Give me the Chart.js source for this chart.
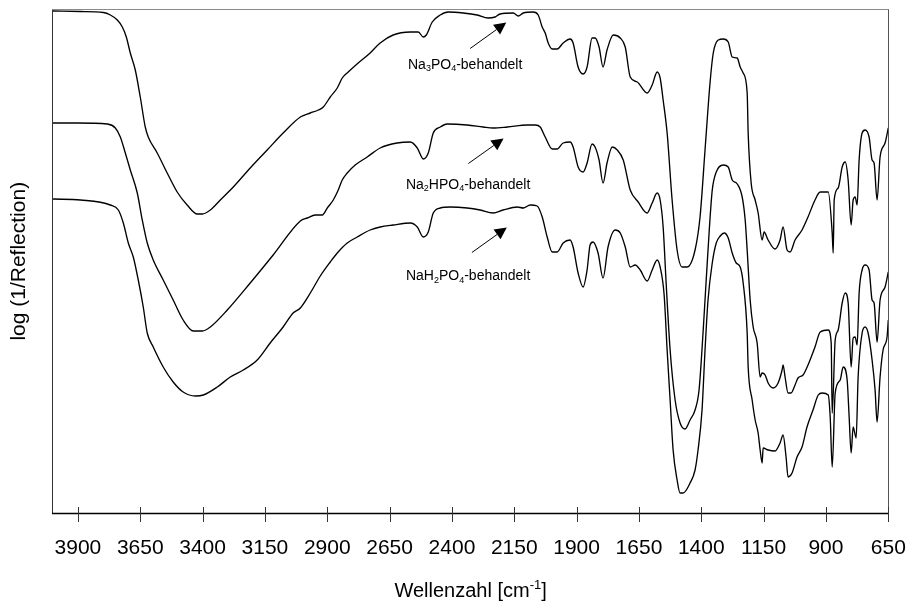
<!DOCTYPE html>
<html>
<head>
<meta charset="utf-8">
<script src="https://cdn.jsdelivr.net/npm/chart.js@4/dist/chart.umd.min.js"></script>
<style>
  html, body { margin: 0; padding: 0; background: #fff; }
  #wrap { width: 908px; height: 603px; }
</style>
</head>
<body>
<div id="wrap"><canvas id="c" width="908" height="603"></canvas></div>
<script>
// IR reflection spectra: [wavenumber (cm^-1), log(1/R) in arbitrary units]
const spectrumNa3PO4 = [
  [4000,1.004],[3890,1.003],[3798,1.001],[3770,0.996],[3742,0.986],[3722,0.972],[3706,0.952],[3690,0.920],
  [3670,0.886],[3650,0.832],[3630,0.772],[3618,0.752],[3582,0.720],[3542,0.680],[3502,0.642],[3462,0.616],
  [3421,0.598],[3401,0.598],[3369,0.606],[3329,0.626],[3277,0.652],[3209,0.690],[3141,0.726],[3077,0.760],
  [3008,0.792],[2968,0.800],[2936,0.806],[2916,0.812],[2888,0.832],[2860,0.850],[2840,0.870],[2816,0.882],
  [2776,0.900],[2728,0.920],[2688,0.940],[2636,0.956],[2567,0.962],[2535,0.962],[2515,0.952],[2503,0.956],
  [2479,0.982],[2447,0.996],[2415,1.002],[2355,1.000],[2299,0.996],[2255,0.990],[2227,0.992],[2207,0.998],
  [2154,1.000],[2134,0.994],[2114,1.000],[2074,1.002],[2054,0.996],[2038,0.972],[2026,0.960],[2014,0.940],
  [1998,0.928],[1978,0.928],[1954,0.940],[1926,0.948],[1914,0.940],[1894,0.892],[1874,0.878],[1858,0.892],
  [1838,0.950],[1826,0.950],[1810,0.932],[1794,0.892],[1778,0.926],[1753,0.956],[1725,0.950],[1705,0.932],
  [1685,0.872],[1657,0.862],[1617,0.840],[1597,0.856],[1577,0.882],[1565,0.870],[1553,0.826],[1537,0.760],
  [1517,0.626],[1497,0.526],[1477,0.492],[1457,0.492],[1425,0.526],[1405,0.592],[1385,0.726],[1365,0.860],
  [1352,0.920],[1332,0.946],[1312,0.948],[1292,0.942],[1276,0.912],[1256,0.910],[1244,0.892],[1232,0.880],
  [1216,0.840],[1212,0.760],[1200,0.660],[1184,0.626],[1172,0.600],[1156,0.546],[1148,0.562],[1132,0.546],
  [1104,0.528],[1084,0.546],[1072,0.572],[1056,0.526],[1044,0.522],[1024,0.546],[996,0.566],[972,0.592],
  [944,0.626],[923,0.642],[891,0.642],[875,0.560],[871,0.520],[867,0.626],[851,0.650],[835,0.692],
  [823,0.702],[811,0.666],[799,0.576],[791,0.626],[783,0.632],[775,0.616],[767,0.706],[755,0.760],
  [743,0.766],[727,0.752],[715,0.706],[707,0.700],[695,0.626],[683,0.712],[663,0.740],[650,0.770]
];

const spectrumNa2HPO4 = [
  [4000,0.780],[3903,0.780],[3782,0.778],[3750,0.770],[3730,0.752],[3710,0.720],[3690,0.686],[3662,0.640],
  [3642,0.586],[3622,0.540],[3598,0.506],[3558,0.466],[3518,0.426],[3478,0.386],[3437,0.364],[3401,0.364],
  [3369,0.372],[3301,0.406],[3209,0.460],[3117,0.516],[3008,0.584],[2980,0.590],[2948,0.596],[2920,0.596],
  [2900,0.610],[2876,0.626],[2856,0.646],[2840,0.666],[2820,0.680],[2788,0.696],[2740,0.712],[2688,0.730],
  [2620,0.740],[2567,0.742],[2539,0.730],[2515,0.708],[2495,0.720],[2475,0.760],[2447,0.772],[2419,0.778],
  [2339,0.776],[2275,0.772],[2235,0.770],[2178,0.772],[2098,0.776],[2066,0.776],[2046,0.772],[2026,0.752],
  [1998,0.728],[1978,0.728],[1954,0.740],[1926,0.742],[1914,0.732],[1894,0.692],[1874,0.682],[1858,0.700],
  [1838,0.738],[1826,0.732],[1810,0.706],[1794,0.660],[1778,0.700],[1757,0.732],[1737,0.726],[1713,0.706],
  [1685,0.646],[1653,0.622],[1617,0.600],[1597,0.620],[1577,0.640],[1565,0.626],[1553,0.572],[1541,0.460],
  [1525,0.326],[1505,0.226],[1485,0.180],[1465,0.168],[1445,0.186],[1425,0.206],[1409,0.246],[1393,0.360],
  [1381,0.460],[1368,0.566],[1356,0.646],[1340,0.682],[1312,0.696],[1292,0.692],[1276,0.666],[1256,0.658],
  [1236,0.632],[1224,0.586],[1216,0.526],[1204,0.426],[1192,0.372],[1176,0.340],[1164,0.272],[1156,0.280],
  [1144,0.276],[1132,0.260],[1112,0.250],[1092,0.260],[1076,0.286],[1072,0.296],[1064,0.272],[1052,0.240],
  [1040,0.240],[1024,0.256],[1012,0.270],[992,0.276],[972,0.296],[944,0.332],[923,0.362],[891,0.366],
  [879,0.340],[875,0.200],[863,0.346],[851,0.366],[835,0.420],[823,0.440],[811,0.420],[799,0.292],
  [791,0.350],[783,0.352],[775,0.336],[767,0.440],[755,0.486],[743,0.496],[727,0.486],[715,0.426],
  [707,0.420],[695,0.342],[683,0.426],[663,0.452],[650,0.482]
];

const spectrumNaH2PO4 = [
  [4000,0.628],[3890,0.626],[3770,0.616],[3738,0.606],[3718,0.580],[3698,0.540],[3678,0.512],[3658,0.466],
  [3638,0.412],[3622,0.360],[3598,0.332],[3558,0.292],[3518,0.262],[3478,0.242],[3429,0.234],[3397,0.236],
  [3341,0.252],[3289,0.272],[3237,0.286],[3181,0.306],[3129,0.340],[3077,0.372],[3037,0.400],[3008,0.410],
  [2968,0.440],[2928,0.474],[2888,0.502],[2860,0.520],[2820,0.540],[2780,0.552],[2728,0.566],[2688,0.572],
  [2636,0.576],[2567,0.580],[2539,0.572],[2515,0.552],[2495,0.562],[2475,0.600],[2447,0.610],[2407,0.612],
  [2339,0.610],[2287,0.606],[2235,0.600],[2195,0.606],[2138,0.612],[2114,0.610],[2086,0.616],[2058,0.614],
  [2038,0.592],[2018,0.552],[1998,0.522],[1978,0.522],[1954,0.540],[1926,0.546],[1914,0.532],[1894,0.480],
  [1874,0.452],[1858,0.486],[1846,0.536],[1834,0.542],[1814,0.520],[1794,0.470],[1774,0.532],[1745,0.566],
  [1725,0.560],[1705,0.532],[1685,0.492],[1665,0.496],[1645,0.486],[1617,0.464],[1597,0.486],[1577,0.506],
  [1565,0.492],[1549,0.436],[1537,0.326],[1525,0.226],[1513,0.126],[1497,0.066],[1485,0.040],[1473,0.040],
  [1445,0.060],[1425,0.086],[1413,0.126],[1397,0.206],[1385,0.326],[1373,0.426],[1356,0.500],[1340,0.540],
  [1324,0.554],[1308,0.560],[1292,0.550],[1276,0.520],[1260,0.500],[1244,0.492],[1232,0.460],[1216,0.360],
  [1212,0.292],[1196,0.226],[1184,0.186],[1172,0.160],[1164,0.126],[1156,0.100],[1152,0.130],[1132,0.126],
  [1104,0.124],[1084,0.140],[1072,0.156],[1060,0.112],[1052,0.072],[1036,0.080],[1016,0.112],[996,0.132],
  [976,0.172],[952,0.206],[931,0.236],[915,0.240],[891,0.236],[883,0.192],[875,0.092],[863,0.240],
  [843,0.266],[831,0.292],[815,0.266],[807,0.192],[799,0.120],[791,0.172],[779,0.150],[771,0.272],
  [755,0.360],[743,0.372],[731,0.360],[715,0.306],[703,0.246],[695,0.182],[683,0.272],[671,0.326],
  [655,0.352],[650,0.386]
];

// x axis tick values (cm^-1)
const xTickValues = [3900, 3650, 3400, 3150, 2900, 2650, 2400, 2150, 1900, 1650, 1400, 1150, 900, 650];

// Curve labels ("_x" = subscript) with anchor points in data units [wavenumber, log(1/R)]
const labelNames = ['Na_3PO_4-behandelt', 'Na_2HPO_4-behandelt', 'NaH_2PO_4-behandelt'];
const labelAt   = [[2347, 0.889], [2335, 0.649], [2335, 0.466]];
const arrowFrom = [[2327, 0.929], [2334, 0.699], [2320, 0.521]];
const arrowTo   = [[2182, 0.981], [2193, 0.749], [2180, 0.571]];

const xTitle = 'Wellenzahl [cm^{-1}]';
const yTitle = 'log (1/Reflection)';

const FONT = "'Liberation Sans', Arial, sans-serif";

// split "_x" subscripts and "^{..}" superscripts into runs
function parseRich(str) {
  const parts = [];
  let buf = '', i = 0;
  const flush = () => { if (buf) parts.push({ t: buf, k: 'n' }); buf = ''; };
  while (i < str.length) {
    const c = str[i];
    if (c === '_') { flush(); parts.push({ t: str[i + 1], k: 'sub' }); i += 2; }
    else if (c === '^' && str[i + 1] === '{') {
      flush();
      const j = str.indexOf('}', i);
      parts.push({ t: str.slice(i + 2, j), k: 'sup' });
      i = j + 1;
    } else { buf += c; i++; }
  }
  flush();
  return parts;
}

function drawRich(ctx, str, cx, baseline, size) {
  const parts = parseRich(str);
  const small = Math.round(size * 0.64);
  const fontFor = k => (k === 'n' ? size : small) + 'px ' + FONT;
  let total = 0;
  parts.forEach(p => { ctx.font = fontFor(p.k); p.w = ctx.measureText(p.t).width; total += p.w; });
  let x = cx - total / 2;
  ctx.textAlign = 'left';
  ctx.textBaseline = 'alphabetic';
  parts.forEach(p => {
    ctx.font = fontFor(p.k);
    const dy = p.k === 'sub' ? size * 0.2 : (p.k === 'sup' ? -size * 0.42 : 0);
    ctx.fillText(p.t, x, baseline + dy);
    x += p.w;
  });
}

function drawArrow(ctx, x0, y0, x1, y1, headLen, headW) {
  const a = Math.atan2(y1 - y0, x1 - x0);
  const bx = x1 - headLen * Math.cos(a), by = y1 - headLen * Math.sin(a);
  ctx.beginPath();
  ctx.moveTo(x0, y0);
  ctx.lineTo(bx, by);
  ctx.stroke();
  ctx.beginPath();
  ctx.moveTo(x1, y1);
  ctx.lineTo(bx + headW / 2 * Math.sin(a), by - headW / 2 * Math.cos(a));
  ctx.lineTo(bx - headW / 2 * Math.sin(a), by + headW / 2 * Math.cos(a));
  ctx.closePath();
  ctx.fill();
}

// frame, crossing tick marks, x title and curve labels
const decorations = {
  id: 'decorations',
  afterDraw(chart) {
    const { ctx, chartArea: a, scales: { x, y } } = chart;
    ctx.save();
    ctx.lineWidth = 1;
    // top and right frame
    ctx.strokeStyle = '#8a8a8a';
    ctx.beginPath(); ctx.moveTo(a.left - 0.5, 9.5); ctx.lineTo(a.right + 0.5, 9.5); ctx.stroke();
    ctx.strokeStyle = '#555';
    ctx.beginPath(); ctx.moveTo(888.5, 9.5); ctx.lineTo(888.5, a.bottom + 0.5); ctx.stroke();
    // left and bottom axes
    ctx.strokeStyle = '#333';
    ctx.beginPath(); ctx.moveTo(52.5, 9.5); ctx.lineTo(52.5, a.bottom + 1); ctx.stroke();
    ctx.strokeStyle = '#000';
    ctx.lineWidth = 1.3;
    ctx.beginPath(); ctx.moveTo(52, a.bottom + 0.5); ctx.lineTo(889, a.bottom + 0.5); ctx.stroke();
    // tick marks crossing the x axis
    ctx.lineWidth = 1;
    ctx.strokeStyle = '#333';
    x.ticks.forEach(t => {
      const px = Math.round(x.getPixelForValue(t.value)) + 0.5;
      ctx.beginPath(); ctx.moveTo(px, a.bottom - 6); ctx.lineTo(px, a.bottom + 9); ctx.stroke();
    });
    // x axis title
    ctx.fillStyle = '#000';
    drawRich(ctx, xTitle, (a.left + a.right) / 2, 597, 20);
    // curve labels with arrows
    ctx.strokeStyle = '#000';
    ctx.fillStyle = '#000';
    ctx.lineWidth = 1;
    labelNames.forEach((name, i) => {
      drawRich(ctx, name, x.getPixelForValue(labelAt[i][0]), y.getPixelForValue(labelAt[i][1]), 14);
      drawArrow(ctx,
        x.getPixelForValue(arrowFrom[i][0]), y.getPixelForValue(arrowFrom[i][1]),
        x.getPixelForValue(arrowTo[i][0]), y.getPixelForValue(arrowTo[i][1]), 12, 12);
    });
    ctx.restore();
  }
};

const toPoints = arr => arr.map(([wn, v]) => ({ x: wn, y: v }));
const lineStyle = {
  borderColor: '#000',
  borderWidth: 1.35,
  pointRadius: 0,
  fill: false,
  cubicInterpolationMode: 'monotone'
};

new Chart(document.getElementById('c'), {
  type: 'line',
  data: {
    datasets: [
      { label: 'Na3PO4-behandelt', data: toPoints(spectrumNa3PO4), ...lineStyle },
      { label: 'Na2HPO4-behandelt', data: toPoints(spectrumNa2HPO4), ...lineStyle },
      { label: 'NaH2PO4-behandelt', data: toPoints(spectrumNaH2PO4), ...lineStyle }
    ]
  },
  options: {
    responsive: false,
    animation: false,
    devicePixelRatio: 1,
    layout: { padding: { top: 9.5, right: 19.7, bottom: 0, left: 0 } },
    plugins: { legend: { display: false }, tooltip: { enabled: false } },
    scales: {
      x: {
        type: 'linear',
        reverse: true,
        min: 650,
        max: 4000,
        afterBuildTicks: s => { s.ticks = xTickValues.map(value => ({ value })); },
        afterFit: s => { s.height = 90; },
        border: { display: false },
        grid: { display: true, drawOnChartArea: false, drawTicks: true, tickLength: 23, tickColor: 'rgba(0,0,0,0)', color: 'rgba(0,0,0,0)' },
        ticks: {
          padding: 0,
          autoSkip: false,
          maxRotation: 0,
          color: '#000',
          font: { family: FONT, size: 21 },
          callback: v => String(v)
        }
      },
      y: {
        min: 0,
        max: 1.007,
        afterFit: s => { s.width = 53; },
        border: { display: false },
        grid: { display: false, drawTicks: false },
        ticks: { display: false },
        title: {
          display: true,
          text: yTitle,
          color: '#000',
          font: { family: FONT, size: 21 },
          padding: { top: 7, bottom: 0 }
        }
      }
    }
  },
  plugins: [decorations]
});
</script>
</body>
</html>
